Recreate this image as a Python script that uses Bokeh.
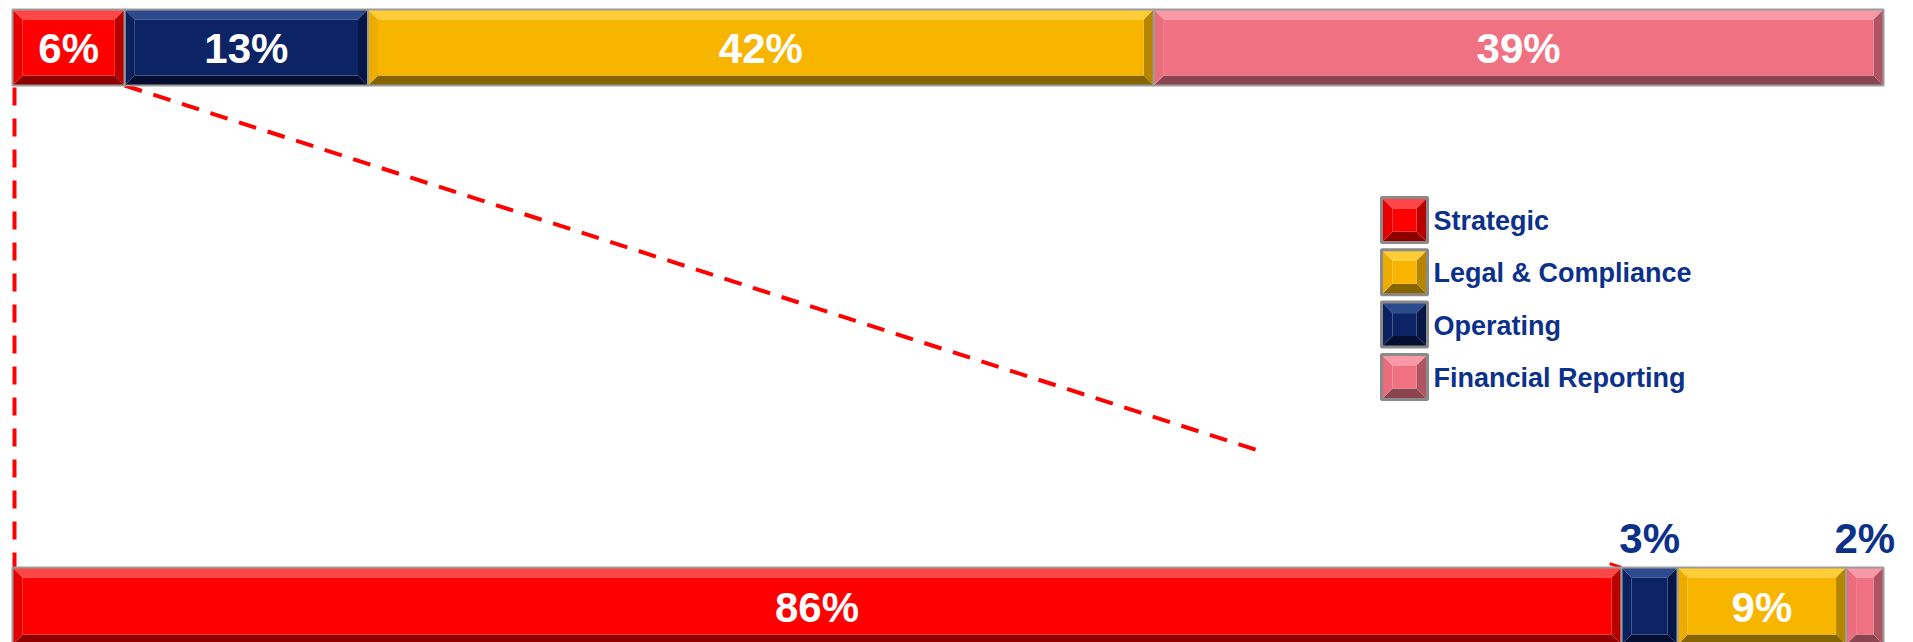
from bokeh.plotting import figure
from bokeh.models import Range1d
from bokeh.embed import file_html
from bokeh.resources import INLINE
from bokeh.core.properties import value

# ---------------- data ----------------
top_categories = ["Strategic", "Operating", "Legal & Compliance", "Financial Reporting"]
top_values = [6, 13, 42, 39]
top_labels = ["6%", "13%", "42%", "39%"]

bottom_categories = ["Strategic", "Operating", "Legal & Compliance", "Financial Reporting"]
bottom_values = [86, 3, 9, 2]
bottom_labels = ["86%", "3%", "9%", "2%"]

legend_categories = ["Strategic", "Legal & Compliance", "Operating", "Financial Reporting"]

# ---------------- styles ----------------
# base, top, bottom, left, right
COLORS = {
    "Strategic": ("#FF0000", "#FF4646", "#8E0000", "#E80000", "#B80000"),
    "Operating": ("#0C2466", "#2C4A8E", "#040E30", "#0B215E", "#061645"),
    "Legal & Compliance": ("#F7B500", "#FFCD35", "#866400", "#EDAD00", "#B58500"),
    "Financial Reporting": ("#F07282", "#F79AA6", "#8A4550", "#EA6D7D", "#AE5462"),
}
LABEL_FONT = value("Liberation Sans")
NAVY_TEXT = "#0B318A"

W, H = 1913, 642
PXU = 18.71                      # pixels per percent
X0 = -12 / PXU
p = figure(width=W, height=H, x_range=Range1d(X0, X0 + W / PXU),
           y_range=Range1d(H, 0), output_backend="svg", toolbar_location=None,
           min_border=0, x_axis_type=None, y_axis_type=None)
p.grid.visible = False
p.outline_line_color = None
p.background_fill_color = "white"
p.border_fill_color = "white"


def bevel_block(x0, x1, y0, y1, cols, b=10, border="#9C9C9C", bw=2):
    base, ctop, cbot, cleft, cright = cols
    bx = min(b / PXU, (x1 - x0) / 2.0)
    xs = [
        [x0, x1, x1 - bx, x0 + bx],
        [x0, x1, x1 - bx, x0 + bx],
        [x0, x0 + bx, x0 + bx, x0],
        [x1, x1 - bx, x1 - bx, x1],
        [x0 + bx, x1 - bx, x1 - bx, x0 + bx],
    ]
    ys = [
        [y0, y0, y0 + b, y0 + b],
        [y1, y1, y1 - b, y1 - b],
        [y0, y0 + b, y1 - b, y1],
        [y0, y0 + b, y1 - b, y1],
        [y0 + b, y0 + b, y1 - b, y1 - b],
    ]
    p.patches(xs, ys, fill_color=[ctop, cbot, cleft, cright, base], line_color=None)
    p.segment(x0 + bx * 0.6, y0 + b * 0.55, x1 - bx * 0.6, y0 + b * 0.55,
              line_color=ctop, line_alpha=0.9, line_width=2)
    p.quad(left=x0, right=x1, top=y0, bottom=y1, fill_color=None,
           line_color=border, line_width=bw)


def draw_bar(cats, vals, labels, y0, y1):
    cum = 0
    for c, v, lab in zip(cats, vals, labels):
        x0, x1 = cum, cum + v
        bevel_block(x0, x1, y0, y1, COLORS[c])
        xc = (x0 + x1) / 2.0
        if v >= 5:
            p.text([xc], [(y0 + y1) / 2.0 + 1], text=[lab], text_color="white",
                   text_font=LABEL_FONT, text_font_style="bold",
                   text_font_size="42px", text_align="center",
                   text_baseline="middle")
        else:
            p.text([xc], [y0 - 29], text=[lab], text_color=NAVY_TEXT,
                   text_font=LABEL_FONT, text_font_style="bold",
                   text_font_size="42px", text_align="center",
                   text_baseline="middle")
        cum = x1


TOP_Y0, TOP_Y1 = 9, 85
BOT_Y0, BOT_Y1 = 567, 644

# dashed connector lines (drawn first so bars sit on top)
start_x = 0 + 2 / PXU
p.line([start_x, start_x], [TOP_Y1 + 2, BOT_Y0], line_color="#FF0000",
       line_width=4, line_dash="18 13")
sx, sy = top_values[0], TOP_Y1
ex, ey = bottom_values[0], BOT_Y0
t = 0.757
p.line([sx, sx + (ex - sx) * t], [sy, sy + (ey - sy) * t], line_color="#FF0000",
       line_width=4, line_dash="18 12")
t2 = 0.992
p.line([sx + (ex - sx) * t2, ex], [sy + (ey - sy) * t2, ey], line_color="#FF0000",
       line_width=3)

draw_bar(top_categories, top_values, top_labels, TOP_Y0, TOP_Y1)
draw_bar(bottom_categories, bottom_values, bottom_labels, BOT_Y0, BOT_Y1)

# ---------------- legend ----------------
LEG_X0 = (1381 - 12) / PXU
LEG_X1 = (1427 - 12) / PXU
LEG_TX = (1433 - 12) / PXU
for i, c in enumerate(legend_categories):
    y0 = 197 + i * 52.3
    y1 = y0 + 45
    bevel_block(LEG_X0, LEG_X1, y0, y1, COLORS[c], b=11, border="#8A8A8A", bw=3)
    p.text([LEG_TX], [(y0 + y1) / 2.0 + 1], text=[c], text_color=NAVY_TEXT,
           text_font=LABEL_FONT, text_font_style="bold", text_font_size="27px",
           text_align="left", text_baseline="middle")

open("out.html", "w").write(file_html(p, INLINE))
